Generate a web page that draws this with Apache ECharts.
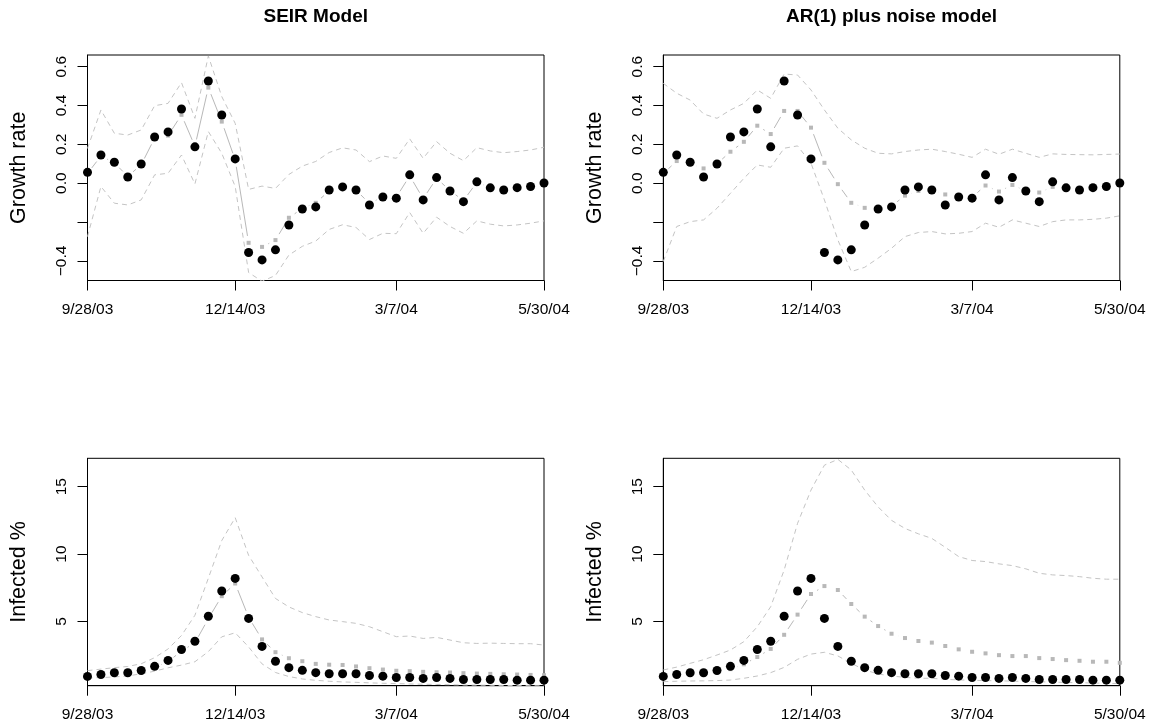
<!DOCTYPE html>
<html><head><meta charset="utf-8">
<script src="https://cdn.jsdelivr.net/npm/echarts@6/dist/echarts.min.js"></script>
<style>html,body{margin:0;padding:0;background:#fff}#c{width:1153px;height:725px}</style>
</head><body><div id="c"></div>
<script>
// ---------- data ----------
const xTickIdx = [0, 11, 23, 34];
const xTickLabels = ['9/28/03', '12/14/03', '3/7/04', '5/30/04'];
const growthTicks = [-0.4, -0.2, 0, 0.2, 0.4, 0.6];
const growthLabelVals = [-0.4, 0, 0.2, 0.4, 0.6];
const infTicks = [5, 10, 15];
const panelTitles = ['SEIR Model', 'AR(1) plus noise model'];

const obsGrowth = [0.056,0.145,0.108,0.032,0.099,0.238,0.264,0.382,0.187,0.526,0.351,0.125,-0.357,-0.395,-0.343,-0.215,-0.133,-0.122,-0.035,-0.019,-0.035,-0.112,-0.071,-0.077,0.043,-0.086,0.029,-0.040,-0.095,0.007,-0.024,-0.035,-0.023,-0.017,0.001];
const seirGrowthMed = [0.05,0.14,0.105,0.035,0.095,0.232,0.245,0.352,0.19,0.492,0.317,0.12,-0.307,-0.328,-0.293,-0.178,-0.13,-0.101,-0.04,-0.02,-0.035,-0.105,-0.07,-0.072,0.038,-0.08,0.025,-0.038,-0.09,0.005,-0.022,-0.033,-0.022,-0.016,0.0];
const seirGrowthUp = [0.179,0.377,0.257,0.248,0.274,0.399,0.411,0.518,0.334,0.655,0.446,0.308,-0.032,-0.015,-0.027,0.045,0.088,0.112,0.158,0.182,0.171,0.111,0.14,0.128,0.228,0.128,0.214,0.154,0.116,0.183,0.166,0.157,0.163,0.171,0.185];
const seirGrowthLo = [-0.275,-0.017,-0.103,-0.112,-0.086,0.043,0.051,0.145,-0.004,0.266,0.154,-0.017,-0.46,-0.505,-0.475,-0.37,-0.325,-0.298,-0.238,-0.214,-0.228,-0.29,-0.258,-0.26,-0.151,-0.258,-0.175,-0.223,-0.258,-0.194,-0.211,-0.22,-0.215,-0.206,-0.194];
const arGrowthMed = [0.05,0.114,0.1,0.076,0.1,0.162,0.213,0.296,0.253,0.372,0.372,0.286,0.105,-0.005,-0.101,-0.127,-0.13,-0.118,-0.064,-0.04,-0.035,-0.058,-0.07,-0.072,-0.012,-0.043,-0.009,-0.04,-0.048,-0.019,-0.02,-0.03,-0.025,-0.02,-0.01];
const arGrowthUp = [0.514,0.463,0.428,0.356,0.334,0.377,0.411,0.48,0.437,0.562,0.557,0.48,0.377,0.283,0.223,0.18,0.154,0.151,0.163,0.171,0.175,0.163,0.149,0.133,0.175,0.149,0.175,0.154,0.133,0.151,0.148,0.147,0.146,0.148,0.150];
const arGrowthLo = [-0.403,-0.223,-0.198,-0.189,-0.129,-0.052,0.025,0.094,0.082,0.18,0.192,0.103,-0.086,-0.292,-0.455,-0.433,-0.386,-0.335,-0.275,-0.254,-0.249,-0.261,-0.258,-0.249,-0.206,-0.227,-0.189,-0.206,-0.223,-0.198,-0.189,-0.189,-0.186,-0.18,-0.168];

const obsInf = [0.91,1.05,1.18,1.18,1.35,1.66,2.1,2.91,3.52,5.38,7.25,8.19,5.22,3.14,2.04,1.56,1.36,1.19,1.11,1.11,1.11,0.98,0.93,0.83,0.83,0.76,0.83,0.76,0.68,0.68,0.68,0.68,0.63,0.63,0.63];
const seirInfMed = [0.9,1.03,1.15,1.17,1.3,1.58,2.0,2.8,3.4,5.2,6.87,7.81,5.3,3.66,2.71,2.26,2.04,1.84,1.78,1.76,1.65,1.52,1.42,1.33,1.3,1.25,1.22,1.2,1.15,1.12,1.1,1.07,1.05,1.02,1.0];
const seirInfUp = [1.34,1.45,1.56,1.65,1.85,2.3,2.95,3.95,5.45,8.2,11.0,12.7,9.9,8.3,6.7,6.07,5.65,5.35,5.1,4.98,4.85,4.6,4.23,3.86,3.91,3.73,3.81,3.61,3.41,3.36,3.38,3.36,3.34,3.34,3.24];
const seirInfLo = [0.8,0.82,0.87,0.95,1.1,1.3,1.55,1.75,2.0,2.75,3.85,4.15,3.1,1.84,1.2,0.9,0.72,0.62,0.55,0.5,0.47,0.43,0.4,0.38,0.35,0.33,0.31,0.29,0.27,0.26,0.25,0.24,0.23,0.22,0.21];
const arInfMed = [0.95,1.0,1.1,1.2,1.25,1.45,1.81,2.35,2.95,4.0,5.5,7.03,7.62,7.33,6.29,5.35,4.65,4.08,3.76,3.54,3.42,3.17,2.92,2.74,2.62,2.49,2.42,2.42,2.27,2.2,2.12,2.07,2.0,2.0,1.92];
const arInfUp = [1.39,1.6,1.88,2.15,2.5,2.87,3.49,4.6,6.09,8.81,12.28,14.75,16.6,17.03,16.24,14.75,13.5,12.5,11.9,11.5,11.16,10.5,9.81,9.52,9.44,9.27,9.14,8.9,8.57,8.45,8.4,8.32,8.2,8.13,8.13];
const arInfLo = [0.52,0.55,0.57,0.58,0.6,0.64,0.77,0.94,1.19,1.58,2.18,2.57,2.7,2.43,1.88,1.39,1.09,0.94,0.84,0.77,0.77,0.69,0.65,0.62,0.6,0.58,0.56,0.53,0.51,0.49,0.46,0.44,0.42,0.4,0.38];

// ---------- styling ----------
const FONT = 'Liberation Sans, Arial, Helvetica, sans-serif';
const BOUND_COLOR = '#c4c4c4';
const MED_COLOR = '#b8b8b8';
const GAP = 7;

const grids = [
  {left: 87.5, top: 55, width: 456.5, height: 225.5},
  {left: 663.3, top: 55, width: 456.5, height: 225.5},
  {left: 87.5, top: 458.3, width: 456.5, height: 227.4},
  {left: 663.3, top: 458.3, width: 456.5, height: 227.4}
].map(g => Object.assign(g, {show: true, borderColor: '#000', borderWidth: 1, backgroundColor: 'transparent', containLabel: false}));

const panels = [
  {obs: obsGrowth, med: seirGrowthMed, up: seirGrowthUp, lo: seirGrowthLo, kind: 'g'},
  {obs: obsGrowth, med: arGrowthMed, up: arGrowthUp, lo: arGrowthLo, kind: 'g'},
  {obs: obsInf, med: seirInfMed, up: seirInfUp, lo: seirInfLo, kind: 'i'},
  {obs: obsInf, med: arInfMed, up: arInfUp, lo: arInfLo, kind: 'i'}
];

const pairs = arr => arr.map((v, i) => [i, v]);
const fmtNum = v => (Math.abs(v) < 1e-9 ? '0.0' : v.toFixed(1)).replace('-', '\u2212');

const xAxes = panels.map((p, i) => ({
  type: 'value', gridIndex: i, min: 0, max: 34,
  splitLine: {show: false},
  axisLine: {show: true, onZero: false, lineStyle: {color: '#000', width: 1}},
  axisTick: {show: true, customValues: xTickIdx, length: 10, inside: false, lineStyle: {color: '#000', width: 1}},
  axisLabel: {show: true, customValues: xTickIdx, margin: 21.5, fontSize: 15.5, fontFamily: FONT, color: '#000',
    formatter: v => xTickLabels[xTickIdx.indexOf(Math.round(v))] || ''}
}));

const yAxes = panels.map((p, i) => {
  const isG = p.kind === 'g';
  return {
    type: 'value', gridIndex: i,
    min: isG ? -0.501 : 0.22, max: isG ? 0.66 : 17.11,
    splitLine: {show: false},
    axisLine: {show: true, onZero: false, lineStyle: {color: '#000', width: 1}},
    axisTick: {show: true, customValues: isG ? growthTicks : infTicks, length: 10, inside: false, lineStyle: {color: '#000', width: 1}},
    axisLabel: {show: true, customValues: isG ? growthLabelVals : infTicks, rotate: 90, margin: 18, fontSize: 15.5, fontFamily: FONT, color: '#000',
      formatter: v => isG ? fmtNum(v) : String(Math.round(v))},
    name: isG ? 'Growth rate' : 'Infected %',
    nameLocation: 'middle', nameRotate: 90, nameGap: 57,
    nameTextStyle: {fontSize: 21.5, fontFamily: FONT, color: '#000'}
  };
});

function segRender(params, api) {
  const i = api.value(0), v = api.value(1), pv = api.value(2);
  const p0 = api.coord([i - 1, pv]);
  const p1 = api.coord([i, v]);
  const dx = p1[0] - p0[0], dy = p1[1] - p0[1];
  const d = Math.hypot(dx, dy);
  const f = GAP / d;
  if (!(f < 0.5)) return {type: 'group', children: []};
  return {
    type: 'line',
    shape: {x1: p0[0] + f * dx, y1: p0[1] + f * dy, x2: p1[0] - f * dx, y2: p1[1] - f * dy},
    style: {stroke: MED_COLOR, lineWidth: 1, fill: null}
  };
}

const series = [];
panels.forEach((p, i) => {
  [p.up, p.lo].forEach(b => series.push({
    type: 'line', xAxisIndex: i, yAxisIndex: i, data: pairs(b), symbol: 'none', showSymbol: false,
    lineStyle: {color: BOUND_COLOR, width: 1, type: [5, 4]}, clip: true, silent: true, z: 2
  }));
  series.push({
    type: 'custom', xAxisIndex: i, yAxisIndex: i, renderItem: segRender,
    data: p.med.slice(1).map((v, k) => [k + 1, v, p.med[k]]),
    encode: {x: 0, y: [1, 2]}, clip: true, silent: true, z: 3
  });
  series.push({
    type: 'scatter', xAxisIndex: i, yAxisIndex: i, data: pairs(p.med), symbol: 'rect', symbolSize: 4,
    itemStyle: {color: MED_COLOR, opacity: 1}, clip: false, silent: true, z: 4
  });
  series.push({
    type: 'scatter', xAxisIndex: i, yAxisIndex: i, data: pairs(p.obs), symbol: 'circle', symbolSize: 9,
    itemStyle: {color: '#000', opacity: 1}, clip: false, silent: true, z: 5
  });
});

const chart = echarts.init(document.getElementById('c'), null, {renderer: 'canvas'});
chart.setOption({
  animation: false,
  backgroundColor: '#fff',
  grid: grids,
  xAxis: xAxes,
  yAxis: yAxes,
  series: series,
  graphic: panelTitles.map((t, k) => ({
    type: 'text', x: k === 0 ? 315.75 : 891.55, y: 16.7,
    style: {text: t, align: 'center', verticalAlign: 'middle', fontFamily: FONT, fontWeight: 'bold', fontSize: 19, fill: '#000'}
  }))
});
</script></body></html>
